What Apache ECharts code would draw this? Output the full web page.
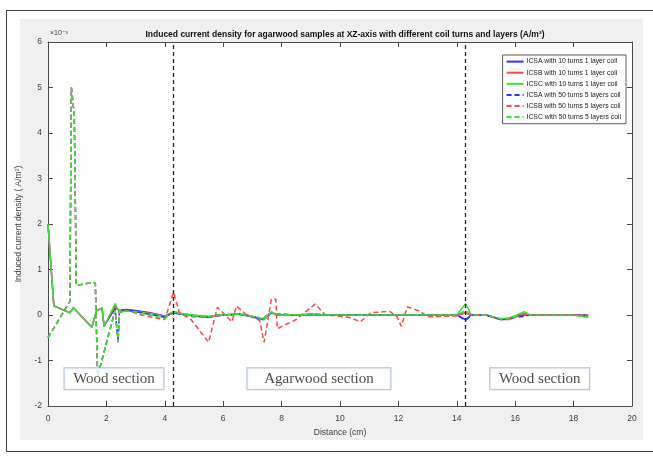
<!DOCTYPE html>
<html>
<head>
<meta charset="utf-8">
<script src="https://cdn.jsdelivr.net/npm/echarts@6/dist/echarts.min.js"></script>
<style>
  html, body { margin: 0; padding: 0; background: #fff; }
  #chart { width: 653px; height: 460px; }
</style>
</head>
<body>
<div id="chart"></div>
<script>
// Distance along the XZ-axis (cm), 10-turn / 1-layer coil runs
const distSingle = [0, 0.2, 0.75, 0.87, 1.5, 1.67, 1.85, 1.92, 2.3, 2.45, 2.7, 3.0, 3.5, 4.0, 4.3, 4.6, 5.0, 5.5, 6.0, 6.5, 7.0, 7.35, 7.65, 7.85, 8.5, 9.0, 9.5, 10.0, 10.5, 11.0, 11.5, 12.0, 12.5, 13.0, 13.5, 14.0, 14.3, 14.5, 15.0, 15.5, 15.8, 16.0, 16.3, 16.5, 17.0, 17.5, 18.0, 18.5];
// Induced current density (x10^-3 A/m^2), 10 turns 1 layer coil
const icsaSingle = [2.0, 0.2, 0.05, 0.16, -0.27, 0.1, 0.15, -0.25, 0.15, 0.1, 0.12, 0.1, 0.05, -0.02, 0.05, 0.02, -0.02, -0.05, 0.0, 0.02, -0.04, -0.1, 0.05, 0.0, 0.0, 0.01, 0.0, 0.0, 0.0, 0.0, 0.0, 0.0, 0.0, 0.0, 0.0, 0.0, -0.1, 0.0, 0.0, -0.1, -0.08, -0.03, 0.0, 0.0, 0.0, 0.0, 0.0, -0.02];
const icsbSingle = [2.0, 0.2, 0.05, 0.16, -0.27, 0.1, 0.15, -0.25, 0.2, 0.08, 0.1, 0.08, 0.04, -0.03, 0.08, 0.03, -0.01, -0.04, 0.0, 0.02, -0.03, -0.09, 0.06, 0.0, 0.0, 0.01, 0.0, 0.0, 0.0, 0.0, 0.0, 0.0, 0.0, 0.0, 0.0, 0.0, 0.05, 0.0, 0.0, -0.1, -0.07, -0.02, 0.03, 0.0, 0.0, 0.0, 0.0, -0.03];
const icscSingle = [2.0, 0.2, 0.05, 0.16, -0.27, 0.1, 0.15, -0.25, 0.25, 0.05, 0.1, 0.07, 0.03, -0.04, 0.06, 0.03, 0.0, -0.03, 0.0, 0.02, -0.03, -0.08, 0.07, 0.0, 0.0, 0.02, 0.0, 0.0, 0.0, 0.0, 0.0, 0.0, 0.0, 0.0, 0.0, 0.0, 0.25, 0.0, 0.0, -0.08, -0.06, -0.02, 0.08, 0.0, 0.0, 0.0, 0.0, -0.05];

// Distance along the XZ-axis (cm), 50-turn / 5-layer coil runs
const distMulti = [0, 0.75, 0.8, 0.9, 0.97, 1.55, 1.62, 1.7, 2.3, 2.4, 2.45, 2.8, 3.2, 3.6, 4.0, 4.3, 4.5, 4.9, 5.5, 5.8, 6.3, 6.45, 6.8, 7.25, 7.4, 7.65, 7.8, 7.85, 8.5, 9.15, 9.5, 10.0, 10.3, 10.7, 11.05, 11.7, 11.95, 12.1, 12.3, 12.75, 13.0, 13.5, 14.0, 14.3, 14.5, 15.0, 15.5, 15.8, 16.0, 16.3, 16.5, 17.0, 17.5, 18.0, 18.5];
// Induced current density (x10^-3 A/m^2), 50 turns 5 layers coil
const icsaMulti = [-0.5, 0.3, 5.0, 4.4, 0.65, 0.72, 0.7, -1.35, 0.12, -0.6, 0.12, 0.1, 0.05, 0.0, -0.05, 0.05, 0.02, -0.03, -0.05, 0.0, 0.0, 0.02, 0.0, -0.08, -0.1, 0.05, 0.03, 0.0, 0.0, 0.02, 0.0, 0.0, 0.0, 0.0, 0.0, 0.0, 0.0, 0.0, 0.0, 0.0, 0.0, 0.0, 0.0, -0.12, 0.0, 0.0, -0.1, -0.09, -0.05, -0.03, 0.0, 0.0, 0.0, 0.0, 0.0];
const icsbMulti = [-0.5, 0.3, 5.0, 4.4, 0.65, 0.72, 0.7, -1.35, 0.1, -0.6, 0.1, 0.08, 0.0, -0.05, -0.1, 0.5, 0.05, -0.1, -0.6, 0.17, -0.15, 0.2, 0.0, -0.12, -0.6, 0.35, 0.35, -0.3, -0.1, 0.24, 0.0, -0.03, -0.05, -0.15, 0.05, 0.08, -0.03, -0.25, 0.18, 0.08, -0.04, -0.03, -0.02, 0.05, 0.0, 0.0, -0.1, -0.1, -0.05, 0.02, 0.0, 0.0, 0.0, 0.0, 0.0];
const icscMulti = [-0.5, 0.3, 5.0, 4.4, 0.65, 0.72, 0.7, -1.35, 0.1, -0.6, 0.1, 0.08, 0.03, -0.02, -0.08, 0.08, 0.03, -0.02, -0.04, 0.0, 0.0, 0.02, 0.0, -0.06, -0.1, 0.06, 0.03, 0.0, 0.0, 0.03, 0.0, 0.0, 0.0, 0.0, 0.0, 0.0, 0.0, 0.0, 0.0, 0.0, 0.0, 0.0, 0.0, 0.1, 0.0, 0.0, -0.08, -0.08, -0.04, 0.06, 0.0, 0.0, 0.0, 0.0, -0.05];

// Wood / agarwood section boundaries (cm)
const sectionBounds = [4.3, 14.3];
// Section captions: distance (cm), current density level, text
const noteX = [2.26, 9.28, 16.84];
const noteY = [-1.4, -1.4, -1.4];
const noteText = ['Wood section', 'Agarwood section', 'Wood section'];
const noteBoxWidths = [99, 143, 99];

// Axis ranges and tick spacing
const xMin = 0, xMax = 20, xStep = 2;
const yMin = -2, yMax = 6, yStep = 1;

const seriesNames = [
  'ICSA with 10 turns 1 layer coil',
  'ICSB with 10 turns 1 layer coil',
  'ICSC with 10 turns 1 layer coil',
  'ICSA with 50 turns 5 layers coil',
  'ICSB with 50 turns 5 layers coil',
  'ICSC with 50 turns 5 layers coil'
];

const BLUE = '#2e2eff', RED = '#ff4747', GREEN = '#3ce03c';
const AXIS = '#4a4a4a', LABEL = '#404040';
const FONT = 'Liberation Sans, Arial, sans-serif';

const pairs = (xs, ys) => xs.map((x, i) => [x, ys[i]]);

function lineSeries(name, xs, ys, color, dashed) {
  return {
    name: name,
    type: 'line',
    data: pairs(xs, ys),
    symbol: 'none',
    showSymbol: false,
    animation: false,
    lineStyle: { color: color, width: 1.5, type: dashed ? [5, 3] : 'solid' },
    itemStyle: { color: color }
  };
}

const chart = echarts.init(document.getElementById('chart'), null, { renderer: 'canvas' });

const tickCommon = {
  axisLine: { show: true, onZero: false, lineStyle: { color: AXIS, width: 1 } },
  axisTick: { show: true, inside: true, length: 5, lineStyle: { color: AXIS } },
  splitLine: { show: false }
};

const option = {
  backgroundColor: '#fff',
  animation: false,
  title: {
    text: 'Induced current density for agarwood samples at XZ-axis with different coil turns and layers (A/m²)',
    left: 340, top: 25, textAlign: 'center',
    textStyle: { fontFamily: FONT, fontSize: 8.5, fontWeight: 'bold', color: '#111' }
  },
  legend: {
    data: seriesNames,
    orient: 'vertical',
    right: 27, top: 55,
    itemWidth: 17, itemHeight: 9, itemGap: 3.9,
    padding: [3, 5, 3, 3],
    backgroundColor: '#fff',
    borderColor: '#333', borderWidth: 0.8, borderRadius: 0,
    itemStyle: { opacity: 0 },
    textStyle: { fontFamily: FONT, fontSize: 6.8, color: '#222', padding: [0, 0, 0, -2] }
  },
  grid: {
    left: 48, right: 21, top: 42, bottom: 54,
    show: true, backgroundColor: '#fff', borderWidth: 0
  },
  xAxis: [
    Object.assign({
      type: 'value', min: xMin, max: xMax, interval: xStep,
      name: 'Distance (cm)', nameLocation: 'middle', nameGap: 22,
      nameTextStyle: { fontFamily: FONT, fontSize: 8.5, color: LABEL },
      axisLabel: { fontFamily: FONT, fontSize: 8.5, color: LABEL, margin: 8 }
    }, tickCommon),
    Object.assign({
      type: 'value', min: xMin, max: xMax, interval: xStep, position: 'top',
      axisLabel: { show: false }
    }, tickCommon)
  ],
  yAxis: [
    Object.assign({
      type: 'value', min: yMin, max: yMax, interval: yStep,
      name: 'Induced current density ( A/m²)', nameLocation: 'middle', nameGap: 20,
      nameTextStyle: { fontFamily: FONT, fontSize: 8.5, color: LABEL },
      axisLabel: { fontFamily: FONT, fontSize: 8.5, color: LABEL, margin: 6 }
    }, tickCommon),
    Object.assign({
      type: 'value', min: yMin, max: yMax, interval: yStep, position: 'right',
      axisLabel: { show: false }
    }, tickCommon)
  ],
  graphic: [
    { type: 'rect', z: -100, shape: { x: 6.5, y: 10.5, width: 660, height: 441 },
      style: { fill: '#fff', stroke: '#3a3a3a', lineWidth: 1 } },
    { type: 'rect', z: -90, shape: { x: 20, y: 19, width: 623, height: 421 },
      style: { fill: '#f0f0f0' } },
    { type: 'text', left: 50, top: 30,
      style: { text: '×10⁻³', fontFamily: 'Liberation Sans, DejaVu Sans, sans-serif', fontSize: 7, fill: LABEL } }
  ],
  series: [
    lineSeries(seriesNames[0], distSingle, icsaSingle, BLUE, false),
    lineSeries(seriesNames[1], distSingle, icsbSingle, RED, false),
    lineSeries(seriesNames[2], distSingle, icscSingle, GREEN, false),
    lineSeries(seriesNames[3], distMulti, icsaMulti, BLUE, true),
    lineSeries(seriesNames[4], distMulti, icsbMulti, RED, true),
    lineSeries(seriesNames[5], distMulti, icscMulti, GREEN, true),
    {
      // section boundaries
      type: 'line', data: [], silent: true, animation: false,
      markLine: {
        silent: true, symbol: 'none', animation: false,
        label: { show: false },
        lineStyle: { color: '#222', width: 1.3, type: [4, 3] },
        data: sectionBounds.map(x => ({ xAxis: x }))
      }
    },
    {
      // section captions
      type: 'scatter', silent: true, animation: false, symbolSize: 0, z: 10,
      data: noteX.map((x, i) => ({
        value: [x, noteY[i]],
        label: { formatter: noteText[i], width: noteBoxWidths[i] }
      })),
      label: {
        show: true, position: 'inside', align: 'center',
        fontFamily: 'Liberation Serif, Times New Roman, serif', fontSize: 15, color: '#1a1a1a',
        backgroundColor: '#fff', borderColor: '#9aaed0', borderWidth: 1,
        padding: [3, 0, 2, 0], lineHeight: 16
      }
    }
  ]
};

chart.setOption(option);
</script>
</body>
</html>
